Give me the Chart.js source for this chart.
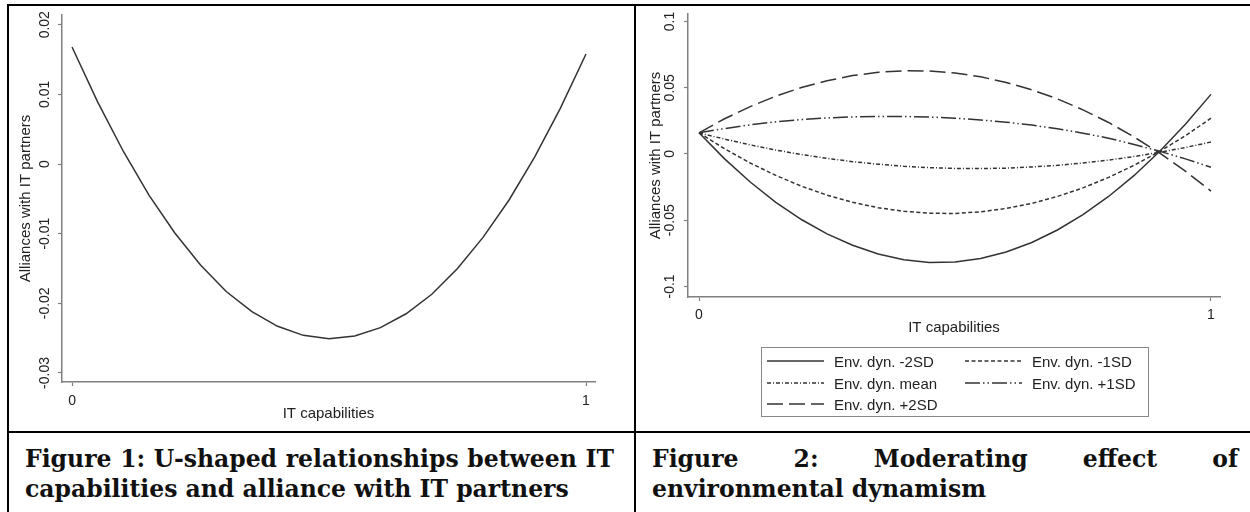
<!DOCTYPE html>
<html>
<head>
<meta charset="utf-8">
<script src="https://cdn.jsdelivr.net/npm/chart.js@4.4.1/dist/chart.umd.min.js"></script>
<style>
  html, body { margin: 0; padding: 0; background: #fff; }
  #page { position: relative; width: 1250px; height: 512px; overflow: hidden; background: #fff; }
  canvas { position: absolute; }
  .rule { position: absolute; background: #000; }
  .caption { position: absolute; font-family: "DejaVu Serif", "Liberation Serif", serif; font-weight: bold;
             font-size: 23.5px; line-height: 30px; color: #111; }
  .caption .l1 { text-align: justify; text-align-last: justify; white-space: nowrap; }
  #legend2 { position: absolute; left: 761px; top: 347px; width: 386px; height: 68px; border: 1px solid #888; }
  .item { position: absolute; height: 20px; display: flex; align-items: center;
          font-family: "Liberation Sans", Arial, sans-serif; font-size: 15px; color: #222; white-space: nowrap; }
  .item span { margin-left: 10px; }
</style>
</head>
<body>
<div id="page">
  <canvas id="fig1" width="624" height="424" style="left:9px; top:6px;"></canvas>
  <canvas id="fig2" width="612" height="424" style="left:637px; top:6px;"></canvas>
  <div id="legend2"></div>

  <div class="rule" style="left:7px; top:4px; width:1243px; height:2px;"></div>
  <div class="rule" style="left:7px; top:4px; width:2px; height:508px;"></div>
  <div class="rule" style="left:634px; top:4px; width:2px; height:508px;"></div>
  <div class="rule" style="left:7px; top:431px; width:1243px; height:2px;"></div>

  <div class="caption" style="left:25px; top:444px; width:589px;">
    <div class="l1">Figure 1: U-shaped relationships between IT</div>
    <div>capabilities and alliance with IT partners</div>
  </div>
  <div class="caption" style="left:652px; top:444px; width:586px;">
    <div class="l1">Figure 2: Moderating effect of</div>
    <div>environmental dynamism</div>
  </div>
</div>

<script>
// x values the curves were evaluated at (IT capabilities)
const xVals = [0, 0.05, 0.1, 0.15, 0.2, 0.25, 0.3, 0.35, 0.4, 0.45, 0.5,
               0.55, 0.6, 0.65, 0.7, 0.75, 0.8, 0.85, 0.9, 0.95, 1];

// Figure 1: U-shaped curve
const fig1Y = [0.0168, 0.0089, 0.0018, -0.0045, -0.0099, -0.0145, -0.0183, -0.0212, -0.0233, -0.0246, -0.0251,
               -0.0247, -0.0235, -0.0215, -0.0187, -0.0150, -0.0105, -0.0052, 0.0010, 0.0080, 0.0158];

// Figure 2: one curve per level of environmental dynamism
const envMinus2 = [0.016, -0.0037, -0.0212, -0.0365, -0.0495, -0.0603, -0.0689, -0.0755, -0.0798, -0.0820, -0.0816,
                   -0.0790, -0.0740, -0.0668, -0.0574, -0.0458, -0.0321, -0.0162, 0.0020, 0.0224, 0.0450];
const envMinus1 = [0.016, 0.0039, -0.0068, -0.0162, -0.0243, -0.0311, -0.0365, -0.0406, -0.0433, -0.0448, -0.0449,
                   -0.0437, -0.0411, -0.0373, -0.0321, -0.0256, -0.0177, -0.0085, 0.0020, 0.0138, 0.0270];
const envMean   = [0.016, 0.0112, 0.0069, 0.0030, -0.0004, -0.0033, -0.0058, -0.0077, -0.0093, -0.0103, -0.0109,
                   -0.0110, -0.0107, -0.0098, -0.0086, -0.0068, -0.0046, -0.0019, 0.0013, 0.0049, 0.0090];
const envPlus1  = [0.016, 0.0192, 0.0220, 0.0243, 0.0260, 0.0272, 0.0280, 0.0283, 0.0283, 0.0279, 0.0270,
                   0.0257, 0.0240, 0.0218, 0.0190, 0.0157, 0.0119, 0.0072, 0.0020, -0.0037, -0.0100];
const envPlus2  = [0.016, 0.0266, 0.0358, 0.0436, 0.0502, 0.0553, 0.0592, 0.0617, 0.0628, 0.0627, 0.0611,
                   0.0583, 0.0540, 0.0485, 0.0416, 0.0333, 0.0238, 0.0128, 0.0006, -0.0130, -0.0280];
const envLabels = ['Env. dyn. -2SD', 'Env. dyn. -1SD', 'Env. dyn. mean', 'Env. dyn. +1SD', 'Env. dyn. +2SD'];

// tick labels
const xTicks = [0, 1];
const fig1YTicks = [-0.03, -0.02, -0.01, 0, 0.01, 0.02];
const fig2YTicks = [-0.1, -0.05, 0, 0.05, 0.1];

// Stata-like line patterns
const envDashes = [[], [4, 2.5], [4, 2, 1, 2], [15, 3, 1.5, 3, 1.5, 3], [16, 6]];

document.addEventListener('DOMContentLoaded', function () {
    Chart.defaults.font.family = '"Liberation Sans", Arial, sans-serif';
    Chart.defaults.color = '#222';

    const axisGray = '#808080';
    const lineColor = '#333';

    function points(ys) {
        return xVals.map((x, i) => ({ x: x, y: ys[i] }));
    }

    function fmt(v) {
        return String(Math.round(v * 1000) / 1000);
    }

    // shared axis builder, sizes are fixed so the plot box lands where it should
    function makeScales(o) {
        return {
            x: {
                type: 'linear',
                min: o.xMin, max: o.xMax,
                afterBuildTicks: s => { s.ticks = xTicks.map(v => ({ value: v })); },
                afterFit: s => { s.height = o.xHeight; },
                grid: { drawOnChartArea: false, tickLength: 4, color: axisGray, tickWidth: 1.2 },
                border: { display: true, color: axisGray, width: 1.5 },
                ticks: { font: { size: 14 }, padding: o.xTickPad, maxRotation: 0, callback: v => fmt(v) },
                title: { display: true, text: 'IT capabilities', font: { size: 15 }, padding: { top: 0, bottom: o.xTitlePad } }
            },
            y: {
                type: 'linear',
                min: o.yMin, max: o.yMax,
                afterBuildTicks: s => { s.ticks = o.yTicks.map(v => ({ value: v })); },
                afterFit: s => { s.width = o.yWidth; },
                grid: { drawOnChartArea: false, tickLength: 4, color: axisGray, tickWidth: 1.2 },
                border: { display: true, color: axisGray, width: 1.5 },
                ticks: { font: { size: 14 }, padding: o.yTickPad, minRotation: 90, maxRotation: 90,
                         crossAlign: 'center', callback: v => fmt(v) },
                title: { display: true, text: 'Alliances with IT partners', font: { size: 15 },
                         padding: { top: o.yTitlePad, bottom: 0 } }
            }
        };
    }

    // Figure 1
    new Chart(document.getElementById('fig1').getContext('2d'), {
        type: 'line',
        data: {
            datasets: [{
                data: points(fig1Y),
                borderColor: lineColor,
                borderWidth: 1.5,
                pointRadius: 0,
                tension: 0,
                fill: false
            }]
        },
        options: {
            responsive: false,
            animation: false,
            devicePixelRatio: 1,
            layout: { padding: { left: 0, top: 9, right: 38, bottom: 0 } },
            plugins: { legend: { display: false }, tooltip: { enabled: false } },
            scales: makeScales({
                xMin: -0.0195, xMax: 1.0175, xHeight: 48, xTickPad: 7, xTitlePad: 7,
                yMin: -0.0313, yMax: 0.0214, yTicks: fig1YTicks, yWidth: 53, yTickPad: -3, yTitlePad: 8
            })
        }
    });

    // Figure 2
    const series2 = [envMinus2, envMinus1, envMean, envPlus1, envPlus2];
    const chart2 = new Chart(document.getElementById('fig2').getContext('2d'), {
        type: 'line',
        data: {
            datasets: series2.map((ys, i) => ({
                label: envLabels[i],
                data: points(ys),
                borderColor: lineColor,
                borderWidth: 1.5,
                borderDash: envDashes[i],
                pointRadius: 0,
                tension: 0,
                fill: false
            }))
        },
        options: {
            responsive: false,
            animation: false,
            devicePixelRatio: 1,
            layout: { padding: { left: 0, top: 8, right: 29, bottom: 88 } },
            plugins: { legend: { display: false }, tooltip: { enabled: false } },
            scales: makeScales({
                xMin: -0.0215, xMax: 1.0176, xHeight: 45, xTickPad: 6, xTitlePad: 5,
                yMin: -0.108, yMax: 0.1057, yTicks: fig2YTicks, yWidth: 51, yTickPad: -2, yTitlePad: 10
            })
        }
    });

    // legend box in two columns, built from the chart's datasets
    const legendEl = document.getElementById('legend2');
    chart2.data.datasets.forEach((ds, i) => {
        const row = Math.floor(i / 2), col = i % 2;
        const item = document.createElement('div');
        item.className = 'item';
        item.style.left = (col === 0 ? 5 : 203) + 'px';
        item.style.top = (row === 0 ? 3 : row === 1 ? 25 : 46) + 'px';
        const dash = (ds.borderDash || []).join(' ');
        item.innerHTML =
            '<svg width="57" height="20"><line x1="0" y1="10" x2="57" y2="10" stroke="' + lineColor +
            '" stroke-width="1.5" stroke-dasharray="' + (dash || 'none') + '"/></svg>' +
            '<span>' + ds.label + '</span>';
        legendEl.appendChild(item);
    });
});
</script>
</body>
</html>
